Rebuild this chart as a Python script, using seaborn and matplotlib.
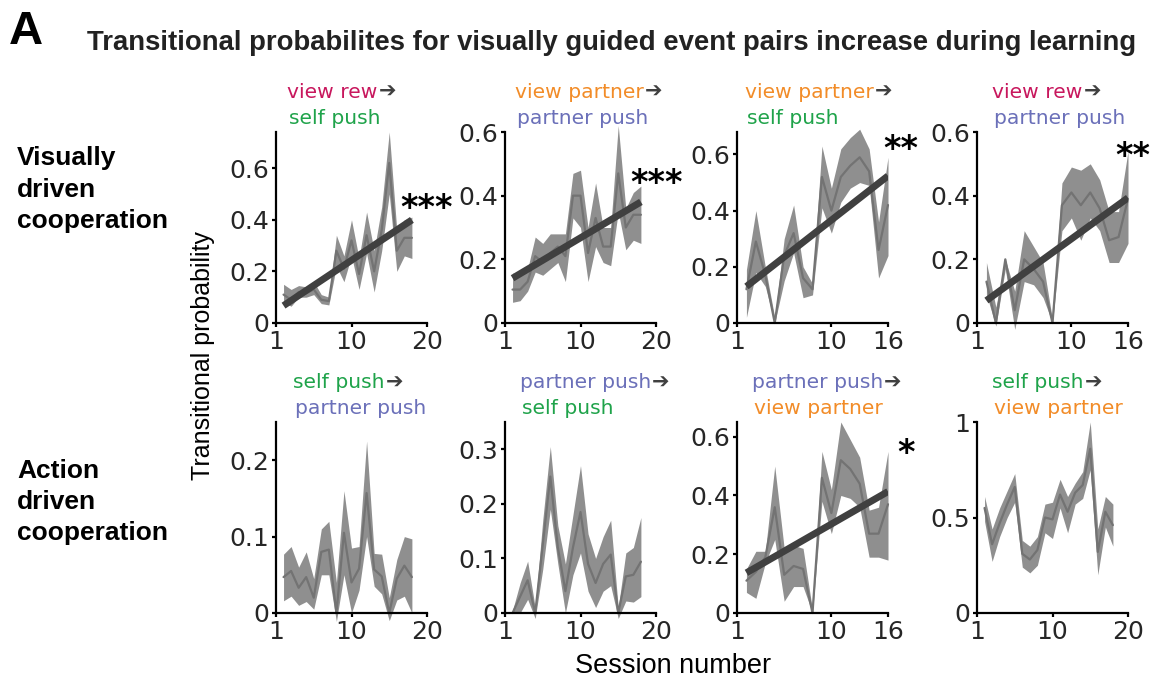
import numpy as np
import matplotlib
matplotlib.use("Agg")
import matplotlib.pyplot as plt
import seaborn as sns

# ---------------------------------------------------------------- data
sessions_18 = np.arange(1, 19)
sessions_16 = np.arange(1, 17)

# view rew -> self push
vr_sp_mean = [0.11, 0.09, 0.12, 0.115, 0.13, 0.09, 0.085, 0.28, 0.21, 0.32, 0.19, 0.34, 0.20, 0.36, 0.62, 0.28, 0.33, 0.33]
vr_sp_lo = [0.08, 0.065, 0.10, 0.10, 0.11, 0.075, 0.07, 0.22, 0.16, 0.26, 0.13, 0.27, 0.12, 0.28, 0.50, 0.20, 0.26, 0.25]
vr_sp_hi = [0.15, 0.13, 0.145, 0.14, 0.16, 0.11, 0.10, 0.34, 0.26, 0.40, 0.25, 0.43, 0.28, 0.45, 0.74, 0.36, 0.40, 0.41]

# view partner -> partner push
vp_pp_mean = [0.105, 0.105, 0.13, 0.21, 0.19, 0.22, 0.24, 0.21, 0.40, 0.40, 0.22, 0.33, 0.24, 0.24, 0.47, 0.30, 0.34, 0.34]
vp_pp_lo = [0.065, 0.07, 0.10, 0.16, 0.15, 0.17, 0.19, 0.13, 0.33, 0.30, 0.13, 0.24, 0.19, 0.18, 0.35, 0.23, 0.26, 0.25]
vp_pp_hi = [0.157, 0.15, 0.17, 0.27, 0.25, 0.28, 0.28, 0.28, 0.47, 0.48, 0.30, 0.44, 0.30, 0.30, 0.62, 0.36, 0.41, 0.43]

# view partner -> self push
vp_sp_mean = [0.12, 0.29, 0.17, 0.0, 0.24, 0.32, 0.16, 0.12, 0.52, 0.40, 0.52, 0.56, 0.59, 0.54, 0.26, 0.42]
vp_sp_lo = [0.02, 0.18, 0.13, 0.0, 0.15, 0.25, 0.09, 0.10, 0.41, 0.32, 0.43, 0.48, 0.50, 0.49, 0.16, 0.24]
vp_sp_hi = [0.19, 0.40, 0.20, 0.02, 0.30, 0.42, 0.20, 0.14, 0.63, 0.48, 0.62, 0.66, 0.69, 0.62, 0.36, 0.59]

# view rew -> partner push
vr_pp_mean = [0.13, 0.0, 0.20, 0.04, 0.20, 0.17, 0.13, 0.0, 0.37, 0.41, 0.37, 0.41, 0.36, 0.26, 0.27, 0.39]
vr_pp_lo = [0.09, -0.01, 0.17, -0.02, 0.13, 0.12, 0.08, 0.0, 0.29, 0.33, 0.26, 0.33, 0.29, 0.19, 0.19, 0.25]
vr_pp_hi = [0.19, 0.05, 0.20, 0.10, 0.29, 0.24, 0.19, 0.01, 0.44, 0.49, 0.48, 0.50, 0.45, 0.35, 0.35, 0.54]

# self push -> partner push
sp_pp_mean = [0.047, 0.055, 0.033, 0.047, 0.02, 0.08, 0.083, 0.0, 0.105, 0.04, 0.058, 0.157, 0.057, 0.048, 0.0, 0.045, 0.062, 0.047]
sp_pp_lo = [0.016, 0.022, 0.01, 0.015, 0.005, 0.05, 0.05, -0.011, 0.05, 0.0, 0.03, 0.10, 0.035, 0.025, -0.01, 0.017, 0.022, 0.0]
sp_pp_hi = [0.077, 0.087, 0.06, 0.08, 0.045, 0.11, 0.12, 0.04, 0.16, 0.085, 0.087, 0.225, 0.078, 0.077, 0.02, 0.07, 0.10, 0.097]

# partner push -> self push
pp_sp_mean = [0.0, 0.03, 0.06, 0.0, 0.125, 0.25, 0.12, 0.04, 0.12, 0.185, 0.09, 0.055, 0.09, 0.107, 0.0, 0.067, 0.07, 0.094]
pp_sp_lo = [0.0, 0.0, 0.025, -0.01, 0.08, 0.19, 0.09, 0.0, 0.07, 0.11, 0.04, 0.01, 0.04, 0.05, -0.01, 0.022, 0.02, 0.03]
pp_sp_hi = [0.005, 0.055, 0.095, 0.01, 0.17, 0.305, 0.16, 0.09, 0.18, 0.27, 0.145, 0.10, 0.14, 0.17, 0.01, 0.11, 0.12, 0.175]

# partner push -> view partner
pp_vp_mean = [0.11, 0.14, 0.19, 0.36, 0.13, 0.16, 0.15, 0.0, 0.46, 0.34, 0.52, 0.49, 0.44, 0.27, 0.27, 0.37]
pp_vp_lo = [0.07, 0.05, 0.17, 0.25, 0.04, 0.09, 0.09, 0.0, 0.38, 0.27, 0.40, 0.39, 0.36, 0.19, 0.19, 0.18]
pp_vp_hi = [0.15, 0.21, 0.21, 0.50, 0.22, 0.23, 0.22, 0.01, 0.55, 0.42, 0.65, 0.59, 0.53, 0.35, 0.36, 0.55]

# self push -> view partner
sp_vp_mean = [0.55, 0.36, 0.47, 0.57, 0.66, 0.31, 0.28, 0.33, 0.50, 0.49, 0.62, 0.53, 0.63, 0.67, 0.86, 0.32, 0.53, 0.46]
sp_vp_lo = [0.48, 0.27, 0.40, 0.50, 0.58, 0.24, 0.21, 0.25, 0.42, 0.39, 0.55, 0.42, 0.57, 0.60, 0.75, 0.20, 0.45, 0.35]
sp_vp_hi = [0.61, 0.44, 0.55, 0.64, 0.73, 0.38, 0.35, 0.40, 0.57, 0.58, 0.70, 0.61, 0.68, 0.74, 1.00, 0.44, 0.61, 0.57]

event_colors = {
    "view rew": "#C8175D",
    "self push": "#1FA34A",
    "partner push": "#6B70B9",
    "view partner": "#F28C28",
}

pair_from = ["view rew", "view partner", "view partner", "view rew",
             "self push", "partner push", "partner push", "self push"]
pair_to = ["self push", "partner push", "self push", "partner push",
           "partner push", "self push", "view partner", "view partner"]
significance = ["***", "***", "**", "**", "", "", "*", ""]
y_max = [0.74, 0.6, 0.68, 0.6, 0.25, 0.35, 0.65, 1.0]
y_ticks = [[0, 0.2, 0.4, 0.6], [0, 0.2, 0.4, 0.6], [0, 0.2, 0.4, 0.6], [0, 0.2, 0.4, 0.6],
           [0, 0.1, 0.2], [0, 0.1, 0.2, 0.3], [0, 0.2, 0.4, 0.6], [0, 0.5, 1]]
x_tick_labels_20 = ["1", "10", "20"]
x_tick_labels_16 = ["1", "10", "16"]

panels = [
    (sessions_18, vr_sp_mean, vr_sp_lo, vr_sp_hi, True),
    (sessions_18, vp_pp_mean, vp_pp_lo, vp_pp_hi, True),
    (sessions_16, vp_sp_mean, vp_sp_lo, vp_sp_hi, True),
    (sessions_16, vr_pp_mean, vr_pp_lo, vr_pp_hi, True),
    (sessions_18, sp_pp_mean, sp_pp_lo, sp_pp_hi, False),
    (sessions_18, pp_sp_mean, pp_sp_lo, pp_sp_hi, False),
    (sessions_16, pp_vp_mean, pp_vp_lo, pp_vp_hi, True),
    (sessions_18, sp_vp_mean, sp_vp_lo, sp_vp_hi, False),
]

# ---------------------------------------------------------------- style
W, H, DPI = 1158, 679, 100
sns.set_style("ticks")
plt.rcParams["font.family"] = ["DejaVu Sans"]
ARIAL = ["Liberation Sans", "DejaVu Sans"]
WIDE = ["DejaVu Sans"]

band_color = "#8f8f8f"
mean_color = "#737373"
fit_color = "#404040"
text_dark = "#262626"

fig = plt.figure(figsize=(W / DPI, H / DPI), dpi=DPI)
fig.patch.set_facecolor("white")


def fx(px):
    return px / W


def fy(py):
    return 1 - py / H


# axes frames in pixels (left, bottom measured from the top, width, height)
ax_lefts = [276, 505, 737, 977]
row_bottoms = [323, 613]
ax_w, ax_h = 151, 191

# title text start (px from left) and line centres for each panel
title_x = [287, 515, 745, 992, 293, 520, 752, 992]
title_y = [(92, 118), (383, 409)]
star_pos = [(400, 200), (630, 175), (883, 141), (1115, 148), None, None, (897, 445), None]

renderer = fig.canvas.get_renderer()

for i, (xs, mean, lo, hi, fit) in enumerate(panels):
    row, col = divmod(i, 4)
    left = ax_lefts[col]
    bottom = row_bottoms[row]
    ax = fig.add_axes([fx(left), fy(bottom), ax_w / W, ax_h / H])
    ax.set_facecolor("white")

    ax.fill_between(xs, lo, hi, color=band_color, lw=0, clip_on=False, zorder=1)
    sns.lineplot(x=xs, y=mean, ax=ax, color=mean_color, lw=1.6, zorder=2)
    for ln in ax.lines:
        ln.set_clip_on(False)
    if fit:
        sns.regplot(x=np.asarray(xs, float), y=np.asarray(mean, float), ax=ax,
                    scatter=False, ci=None, truncate=True,
                    line_kws=dict(color=fit_color, lw=5, solid_capstyle="butt", zorder=3))

    n_last = 20 if len(xs) == 18 else 16
    ax.set_xlim(0, n_last)
    ax.set_xticks([0, 10, n_last])
    ax.set_xticklabels(x_tick_labels_20 if n_last == 20 else x_tick_labels_16)
    ax.set_ylim(0, y_max[i])
    ax.set_yticks(y_ticks[i])
    ax.set_yticklabels([f"{v:g}" for v in y_ticks[i]])
    ax.set_xlabel("")
    ax.set_ylabel("")
    sns.despine(ax=ax)
    for s in ("left", "bottom"):
        ax.spines[s].set_linewidth(1.6)
        ax.spines[s].set_color("black")
    ax.tick_params(axis="both", direction="out", length=3, width=1.6, color="black",
                   labelsize=18, labelcolor=text_dark, pad=2)
    for lab in ax.get_xticklabels() + ax.get_yticklabels():
        lab.set_family(WIDE)

    # two-line coloured title: "<from> ➔" / "<to>"
    y1, y2 = title_y[row]
    t1 = fig.text(fx(title_x[i]), fy(y1), pair_from[i], color=event_colors[pair_from[i]],
                  fontsize=14.6, family=WIDE, ha="left", va="center")
    bb = t1.get_window_extent(renderer)
    fig.text(fx(bb.x1 + 1), fy(y1), "\u2794", color="#404040", fontsize=15,
             family=WIDE, ha="left", va="center")
    fig.text(fx(title_x[i] + 2), fy(y2), pair_to[i], color=event_colors[pair_to[i]],
             fontsize=14.6, family=WIDE, ha="left", va="center")

    if significance[i]:
        sx, sy = star_pos[i]
        fig.text(fx(sx), fy(sy + 18), significance[i], fontsize=24, family=WIDE,
                 fontweight="bold", color="black", ha="left", va="baseline")

# panel letter, figure title, row labels, shared axis labels
fig.text(fx(9), fy(44), "A", fontsize=34, fontweight="bold", family=ARIAL,
         color="black", ha="left", va="baseline")
fig.text(fx(612), fy(50),
         "Transitional probabilites for visually guided event pairs increase during learning",
         fontsize=19.8, fontweight="bold", family=ARIAL, color="#222222",
         ha="center", va="baseline")

row_label_lines = [["Visually", "driven", "cooperation"], ["Action", "driven", "cooperation"]]
row_label_baselines = [[165, 197, 228], [478, 509, 540]]
for lines, bases in zip(row_label_lines, row_label_baselines):
    for txt, b in zip(lines, bases):
        fig.text(fx(17), fy(b), txt, fontsize=19, fontweight="bold", family=ARIAL,
                 color="black", ha="left", va="baseline")

fig.text(fx(203), fy(356), "Transitional probability", fontsize=18, family=ARIAL,
         color="black", rotation=90, ha="center", va="center")
fig.text(fx(673), fy(673), "Session number", fontsize=19.5, family=ARIAL,
         color="black", ha="center", va="baseline")

fig.savefig("out.png", dpi=DPI, facecolor="white")
